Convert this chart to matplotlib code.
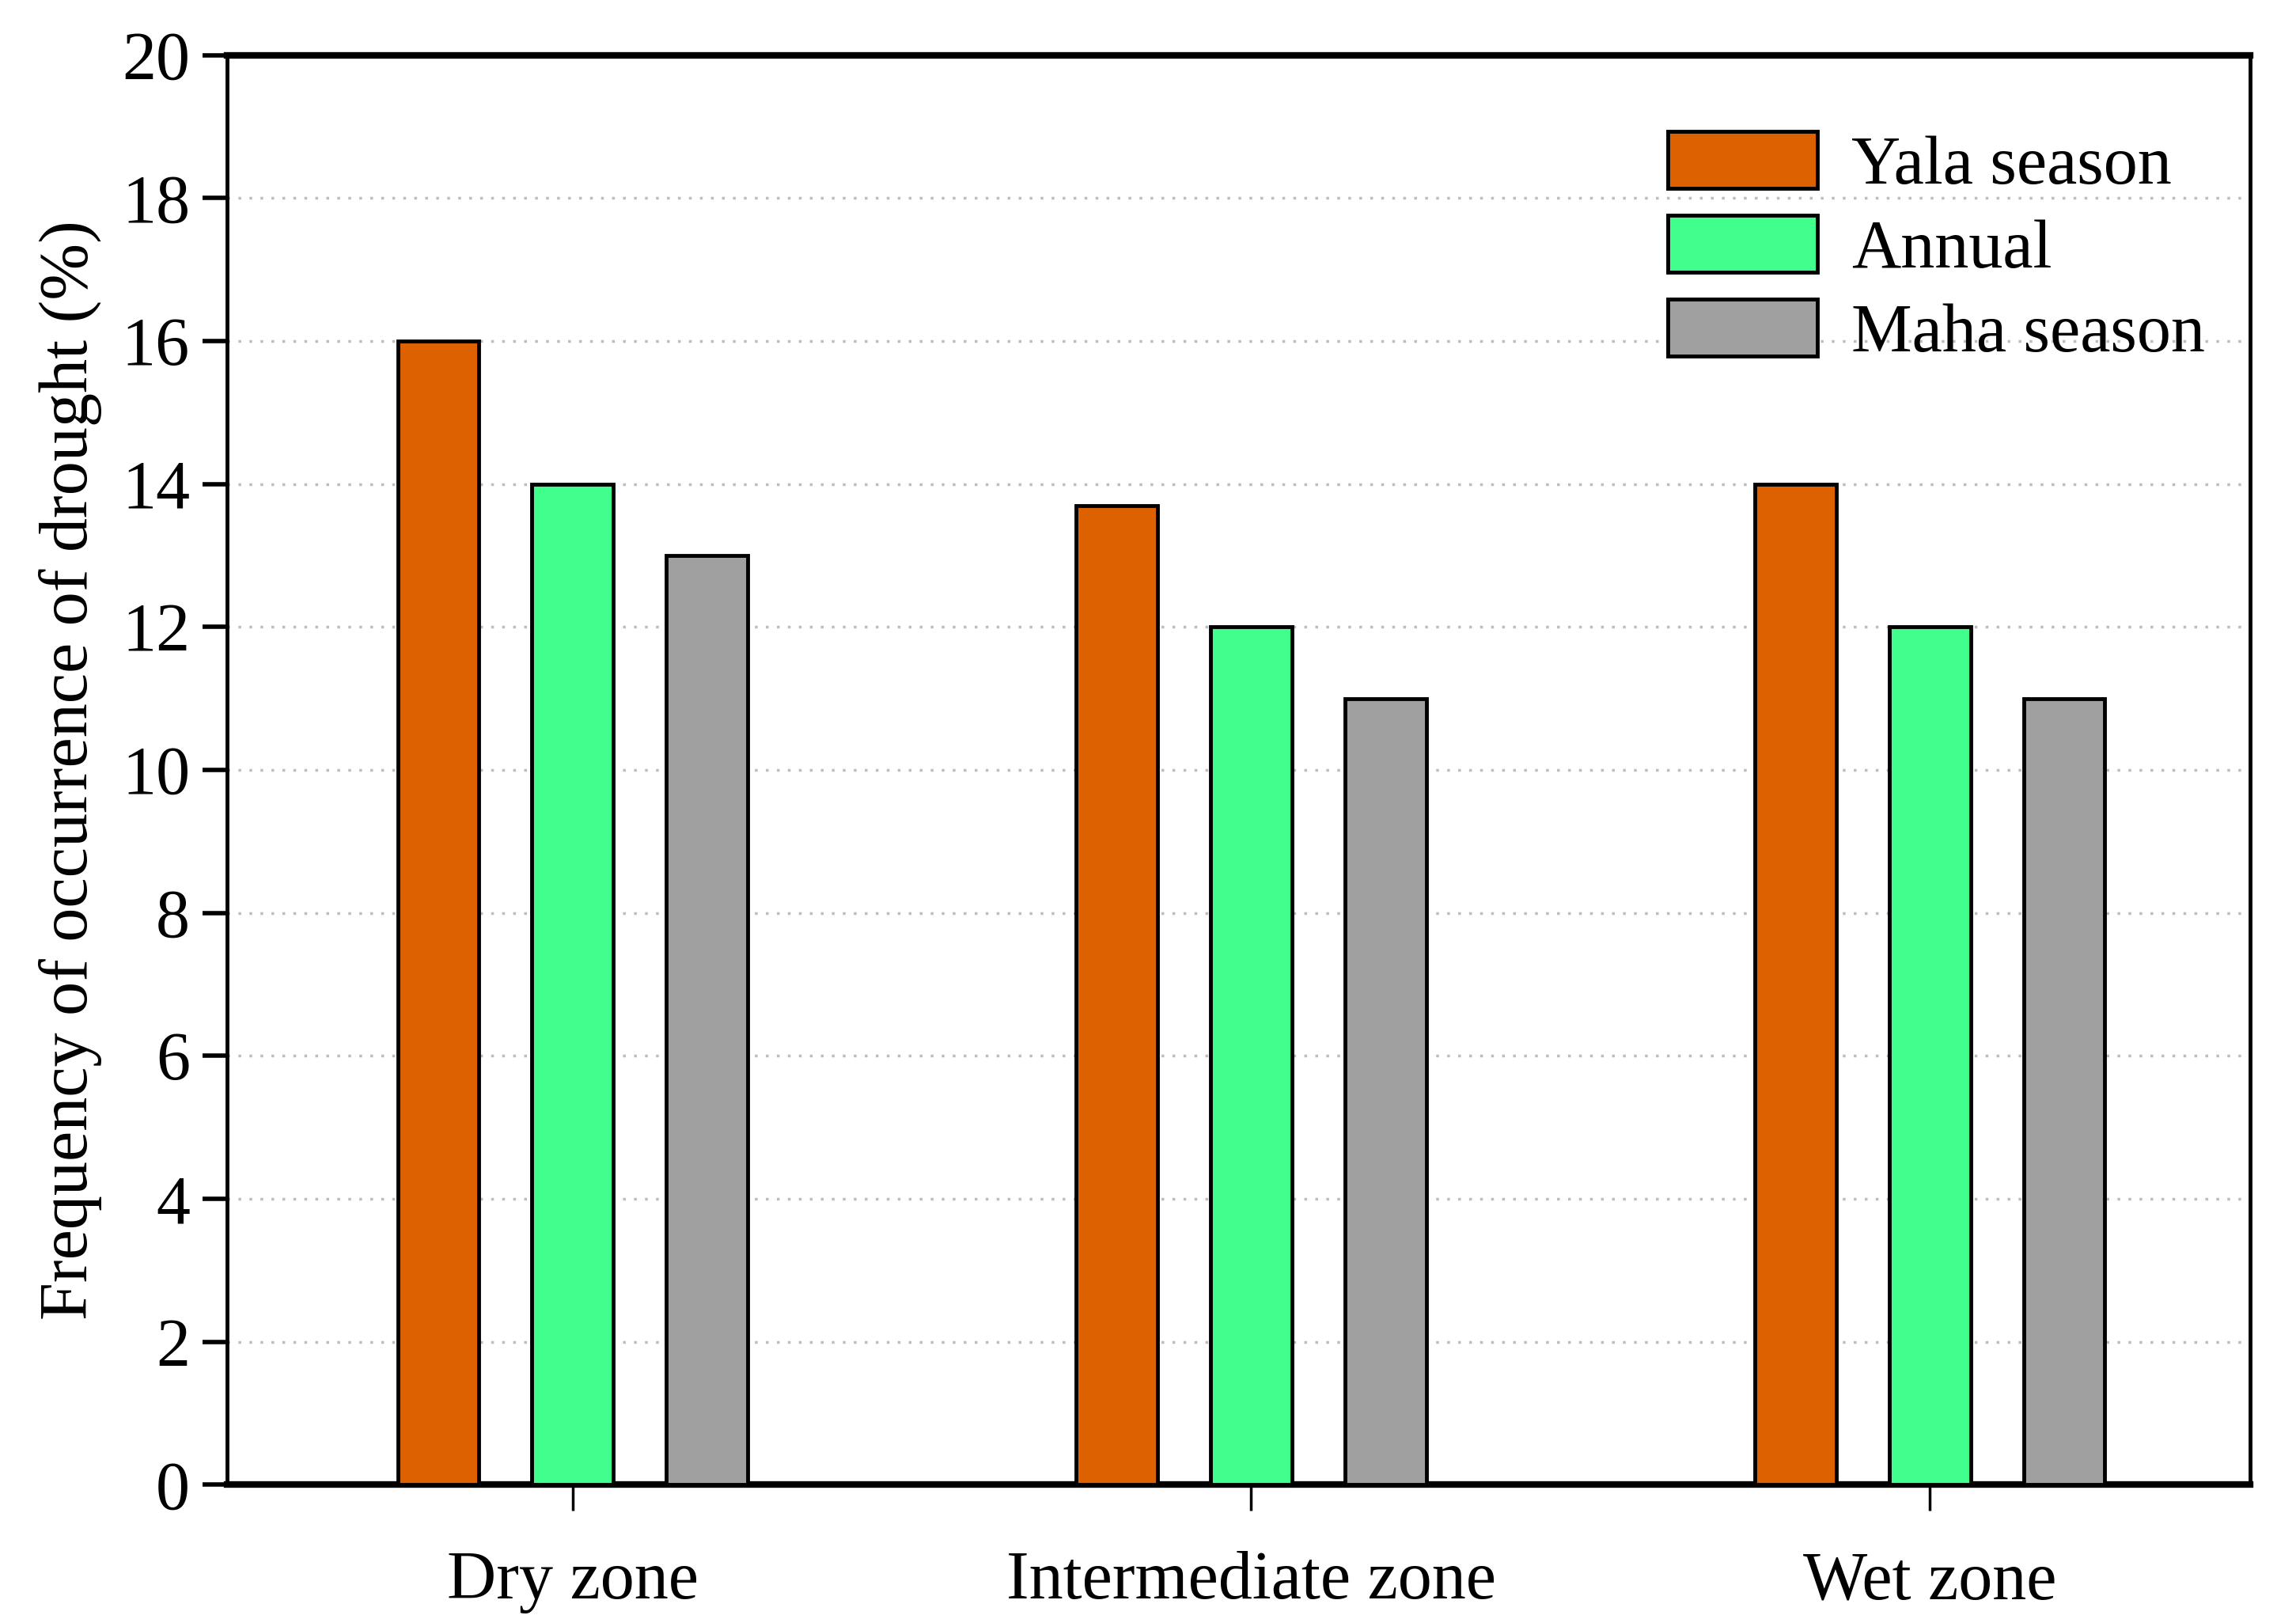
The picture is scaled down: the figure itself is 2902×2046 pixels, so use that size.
import numpy as np
import matplotlib
matplotlib.use('Agg')
import matplotlib.pyplot as plt

# data
zones = ['Dry zone', 'Intermediate zone', 'Wet zone']
yala = [16, 13.7, 14]
annual = [14, 12, 12]
maha = [13, 11, 11]
series_names = ['Yala season', 'Annual', 'Maha season']
colors = ['#DD6100', '#40FF8C', '#A0A0A0']

plt.rcParams['font.family'] = ['Liberation Serif', 'DejaVu Serif']

fig = plt.figure(figsize=(29.02, 20.46), dpi=100)
ax = fig.add_axes([0.099, 0.083, 0.881, 0.883])

x = np.arange(len(zones))
offset = 0.198
width = 0.12
for i, (vals, name, col) in enumerate(zip([yala, annual, maha], series_names, colors)):
    ax.bar(x + (i - 1) * offset, vals, width, color=col, edgecolor='black',
           linewidth=3.5, label=name, zorder=3)

ax.set_xlim(-0.509, 2.472)
ax.set_ylim(0, 20)
ax.set_yticks(np.arange(0, 21, 2))
ax.set_xticks(x)
ax.set_xticklabels(zones)
ax.yaxis.grid(True, linestyle=(0, (1, 3)), color='#bdbdbd', linewidth=2.5, zorder=0)

ax.tick_params(axis='y', direction='out', length=22, width=4, labelsize=62, pad=12)
ax.tick_params(axis='x', direction='out', length=24, width=2.5, labelsize=62, pad=36)
ax.set_ylabel('Frequency of occurrence of drought (%)', fontsize=62, labelpad=18)

for side in ['top', 'bottom']:
    ax.spines[side].set_linewidth(6)
for side in ['left', 'right']:
    ax.spines[side].set_linewidth(3.5)

ax.legend(loc='upper right', frameon=False, fontsize=62, handlelength=2.2,
          handleheight=0.9, handletextpad=0.5, labelspacing=0.25,
          bbox_to_anchor=(0.998, 0.975), borderaxespad=0.2)

plt.savefig('out.png', dpi=100)
